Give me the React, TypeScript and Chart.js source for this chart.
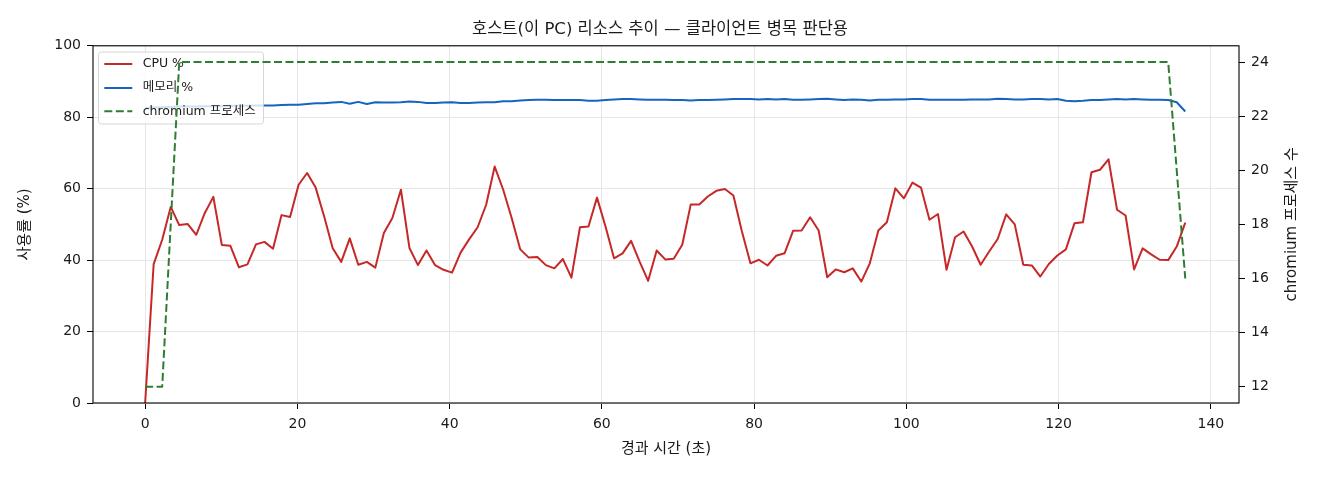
import React, { useEffect, useRef } from "react";
import { Chart, registerables } from "chart.js";

Chart.register(...registerables);

const TITLE = "호스트(이 PC) 리소스 추이 — 클라이언트 병목 판단용";
const X_LABEL = "경과 시간 (초)";
const Y_LABEL = "사용률 (%)";
const Y2_LABEL = "chromium 프로세스 수";
const LEGEND_LABELS = ["CPU %", "메모리 %", "chromium 프로세스"];

const X_TICKS = [0, 20, 40, 60, 80, 100, 120, 140];
const Y_TICKS = [0, 20, 40, 60, 80, 100];
const Y2_TICKS = [12, 14, 16, 18, 20, 22, 24];

const TIMES = [
  0, 1.12, 2.24, 3.36, 4.48, 5.6, 6.72, 7.84, 8.96, 10.08,
  11.2, 12.32, 13.44, 14.56, 15.68, 16.8, 17.92, 19.04, 20.16, 21.28,
  22.4, 23.52, 24.64, 25.76, 26.88, 28, 29.12, 30.24, 31.36, 32.48,
  33.6, 34.72, 35.84, 36.96, 38.08, 39.2, 40.32, 41.44, 42.56, 43.68,
  44.8, 45.92, 47.04, 48.16, 49.28, 50.4, 51.52, 52.64, 53.76, 54.88,
  56, 57.12, 58.24, 59.36, 60.48, 61.6, 62.72, 63.84, 64.96, 66.08,
  67.2, 68.32, 69.44, 70.56, 71.68, 72.8, 73.92, 75.04, 76.16, 77.28,
  78.4, 79.52, 80.64, 81.76, 82.88, 84, 85.12, 86.24, 87.36, 88.48,
  89.6, 90.72, 91.84, 92.96, 94.08, 95.2, 96.32, 97.44, 98.56, 99.68,
  100.8, 101.92, 103.04, 104.16, 105.28, 106.4, 107.52, 108.64, 109.76, 110.88,
  112, 113.12, 114.24, 115.36, 116.48, 117.6, 118.72, 119.84, 120.96, 122.08,
  123.2, 124.32, 125.44, 126.56, 127.68, 128.8, 129.92, 131.04, 132.16, 133.28,
  134.4, 135.52, 136.64,
];

const CPU = [
  0, 38.9, 45.7, 54.9, 49.8, 50.1, 47.1, 53.2, 57.7, 44.2,
  44.0, 38.0, 38.8, 44.4, 45.1, 43.2, 52.6, 52.1, 61.1, 64.4,
  60.3, 52.2, 43.3, 39.5, 46.1, 38.7, 39.5, 37.9, 47.6, 51.8,
  59.7, 43.4, 38.6, 42.7, 38.6, 37.3, 36.5, 42.1, 45.8, 49.2,
  55.5, 66.2, 59.7, 51.7, 43.0, 40.7, 40.9, 38.6, 37.7, 40.3,
  35.1, 49.2, 49.4, 57.5, 49.4, 40.5, 41.9, 45.4, 39.6, 34.2,
  42.7, 40.2, 40.4, 44.3, 55.6, 55.6, 57.8, 59.4, 59.9, 58.1,
  48.0, 39.1, 40.1, 38.5, 41.2, 41.9, 48.2, 48.3, 52.0, 48.3,
  35.2, 37.4, 36.6, 37.7, 34.0, 39.1, 48.3, 50.6, 60.1, 57.3,
  61.7, 60.3, 51.3, 52.9, 37.3, 46.4, 48.0, 43.8, 38.7, 42.4,
  45.9, 52.8, 50.0, 38.7, 38.5, 35.4, 38.9, 41.3, 43.0, 50.3,
  50.6, 64.6, 65.3, 68.2, 54.1, 52.5, 37.4, 43.3, 41.6, 40.1,
  40.0, 43.8, 50.5,
];

const MEMORY = [
  82.6, 82.7, 82.8, 82.9, 83.0, 83.0, 83.0, 83.1, 83.1, 83.1,
  83.2, 83.2, 83.2, 83.3, 83.3, 83.3, 83.4, 83.5, 83.5, 83.7,
  83.9, 83.9, 84.1, 84.3, 83.8, 84.3, 83.7, 84.2, 84.1, 84.1,
  84.2, 84.4, 84.3, 84.0, 84.0, 84.1, 84.2, 84.0, 84.0, 84.1,
  84.2, 84.2, 84.5, 84.5, 84.7, 84.8, 84.9, 84.9, 84.8, 84.8,
  84.8, 84.8, 84.6, 84.6, 84.8, 85.0, 85.1, 85.1, 85.0, 84.9,
  84.9, 84.9, 84.8, 84.8, 84.7, 84.8, 84.8, 84.9, 85.0, 85.1,
  85.1, 85.1, 85.0, 85.1, 85.0, 85.1, 84.9, 84.9, 85.0, 85.1,
  85.2, 85.0, 84.8, 85.0, 84.9, 84.7, 84.9, 84.9, 85.0, 85.0,
  85.1, 85.1, 84.9, 84.9, 84.9, 84.9, 84.9, 85.0, 85.0, 85.0,
  85.2, 85.1, 85.0, 85.0, 85.1, 85.1, 85.0, 85.1, 84.6, 84.5,
  84.6, 84.8, 84.8, 85.0, 85.1, 85.0, 85.1, 85.0, 84.9, 84.9,
  84.8, 84.2, 81.6,
];

const CHROMIUM = [
  12, 12, 12, 18, 24, 24, 24, 24, 24, 24,
  24, 24, 24, 24, 24, 24, 24, 24, 24, 24,
  24, 24, 24, 24, 24, 24, 24, 24, 24, 24,
  24, 24, 24, 24, 24, 24, 24, 24, 24, 24,
  24, 24, 24, 24, 24, 24, 24, 24, 24, 24,
  24, 24, 24, 24, 24, 24, 24, 24, 24, 24,
  24, 24, 24, 24, 24, 24, 24, 24, 24, 24,
  24, 24, 24, 24, 24, 24, 24, 24, 24, 24,
  24, 24, 24, 24, 24, 24, 24, 24, 24, 24,
  24, 24, 24, 24, 24, 24, 24, 24, 24, 24,
  24, 24, 24, 24, 24, 24, 24, 24, 24, 24,
  24, 24, 24, 24, 24, 24, 24, 24, 24, 24,
  24, 20, 16,
];

const COLORS = ["#c62828", "#1565c0", "#2e7d32"];
const FONT = "'DejaVu Sans', 'Noto Sans CJK KR', sans-serif";
const TEXT_COLOR = "#1a1a1a";
const GRID_COLOR = "#e6e6e6";
const DASH = [8, 3.5];

const toPoints = (ys: number[]) => TIMES.map((t, i) => ({ x: t, y: ys[i] }));

const decorPlugin = {
  id: "decor",
  beforeDatasetDraw(chart: any, args: any) {
    // legend belongs to the primary axes: drawn before the secondary-axis line
    if (args.index !== 0) return;
    const ctx = chart.ctx;
    const x = 98.5, y = 52, w = 165, h = 72, r = 3;
    ctx.save();
    ctx.beginPath();
    ctx.moveTo(x + r, y);
    ctx.lineTo(x + w - r, y);
    ctx.arcTo(x + w, y, x + w, y + r, r);
    ctx.lineTo(x + w, y + h - r);
    ctx.arcTo(x + w, y + h, x + w - r, y + h, r);
    ctx.lineTo(x + r, y + h);
    ctx.arcTo(x, y + h, x, y + h - r, r);
    ctx.lineTo(x, y + r);
    ctx.arcTo(x, y, x + r, y, r);
    ctx.closePath();
    ctx.fillStyle = "rgba(255,255,255,0.8)";
    ctx.fill();
    ctx.strokeStyle = "rgba(204,204,204,0.8)";
    ctx.lineWidth = 1;
    ctx.stroke();
    const rows = [64, 88, 111.3];
    LEGEND_LABELS.forEach((label, i) => {
      ctx.beginPath();
      ctx.strokeStyle = COLORS[i];
      ctx.lineWidth = 2;
      ctx.setLineDash(i === 2 ? DASH : []);
      ctx.moveTo(104.3, rows[i]);
      ctx.lineTo(132.3, rows[i]);
      ctx.stroke();
      ctx.setLineDash([]);
      ctx.fillStyle = TEXT_COLOR;
      ctx.font = `12.5px ${FONT}`;
      ctx.textAlign = "left";
      ctx.textBaseline = "middle";
      ctx.fillText(label, 142.7, rows[i]);
    });
    ctx.restore();
  },
  afterDraw(chart: any) {
    const ctx = chart.ctx;
    const { left, top, right, bottom } = chart.chartArea;
    ctx.save();
    ctx.strokeStyle = "#000";
    ctx.lineWidth = 1.1;
    ctx.strokeRect(left, top, right - left, bottom - top);
    ctx.translate(1291.7, (top + bottom) / 2);
    ctx.rotate(-Math.PI / 2);
    ctx.fillStyle = TEXT_COLOR;
    ctx.font = `15px ${FONT}`;
    ctx.textAlign = "center";
    ctx.textBaseline = "middle";
    ctx.fillText(Y2_LABEL, 0, 0);
    ctx.restore();
  },
};

export default function App() {
  const canvasRef = useRef<HTMLCanvasElement | null>(null);

  useEffect(() => {
    if (!canvasRef.current) return;
    const chart = new Chart(canvasRef.current, {
      type: "line",
      data: {
        datasets: [
          {
            label: LEGEND_LABELS[2],
            data: toPoints(CHROMIUM),
            yAxisID: "y2",
            borderColor: COLORS[2],
            borderDash: DASH,
            borderWidth: 2,
            pointRadius: 0,
            tension: 0,
            borderJoinStyle: "round",
          },
          {
            label: LEGEND_LABELS[0],
            data: toPoints(CPU),
            yAxisID: "y",
            borderColor: COLORS[0],
            borderWidth: 2,
            pointRadius: 0,
            tension: 0,
            borderJoinStyle: "round",
          },
          {
            label: LEGEND_LABELS[1],
            data: toPoints(MEMORY),
            yAxisID: "y",
            borderColor: COLORS[1],
            borderWidth: 2,
            pointRadius: 0,
            tension: 0,
            borderJoinStyle: "round",
          },
        ],
      },
      options: {
        animation: false,
        responsive: true,
        maintainAspectRatio: false,
        layout: { padding: 0 },
        font: { family: FONT },
        plugins: {
          legend: { display: false },
          tooltip: { enabled: false },
          title: {
            display: true,
            text: TITLE,
            color: TEXT_COLOR,
            font: { family: FONT, size: 16.5, weight: "normal" },
            padding: { top: 20, bottom: 6 },
          },
        },
        scales: {
          x: {
            type: "linear",
            min: -6.85,
            max: 143.7,
            afterBuildTicks: (axis: any) => {
              axis.ticks = X_TICKS.map((v) => ({ value: v }));
            },
            afterFit: (axis: any) => {
              axis.height = 77;
            },
            border: { display: false },
            grid: {
              color: GRID_COLOR,
              lineWidth: 1,
              drawTicks: true,
              tickLength: 6,
              tickColor: "#000",
              tickWidth: 1,
            },
            ticks: {
              color: TEXT_COLOR,
              font: { family: FONT, size: 14 },
              padding: 7,
              maxRotation: 0,
              autoSkip: false,
            },
            title: {
              display: true,
              text: X_LABEL,
              color: TEXT_COLOR,
              font: { family: FONT, size: 15 },
              padding: { top: 0, bottom: 21.5 },
            },
          },
          y: {
            type: "linear",
            position: "left",
            min: 0,
            max: 100,
            afterBuildTicks: (axis: any) => {
              axis.ticks = Y_TICKS.map((v) => ({ value: v }));
            },
            afterFit: (axis: any) => {
              axis.width = 93;
            },
            border: { display: false },
            grid: {
              color: GRID_COLOR,
              lineWidth: 1,
              drawTicks: true,
              tickLength: 6,
              tickColor: "#000",
              tickWidth: 1,
            },
            ticks: {
              color: TEXT_COLOR,
              font: { family: FONT, size: 14 },
              padding: 6,
            },
            title: {
              display: true,
              text: Y_LABEL,
              color: TEXT_COLOR,
              font: { family: FONT, size: 15 },
              padding: { top: 16, bottom: 0 },
            },
          },
          y2: {
            type: "linear",
            position: "right",
            min: 11.4,
            max: 24.6,
            afterBuildTicks: (axis: any) => {
              axis.ticks = Y2_TICKS.map((v) => ({ value: v }));
            },
            afterFit: (axis: any) => {
              axis.width = 81;
            },
            border: { display: false },
            grid: {
              drawOnChartArea: false,
              drawTicks: true,
              tickLength: 6,
              tickColor: "#000",
              tickWidth: 1,
            },
            ticks: {
              color: TEXT_COLOR,
              font: { family: FONT, size: 14 },
              padding: 6,
            },
          },
        },
      } as any,
      plugins: [decorPlugin],
    });
    return () => chart.destroy();
  }, []);

  return (
    <div
      style={{
        position: "fixed",
        left: 0,
        top: 0,
        width: 1320,
        height: 480,
        background: "#fff",
      }}
    >
      <canvas ref={canvasRef} />
    </div>
  );
}
